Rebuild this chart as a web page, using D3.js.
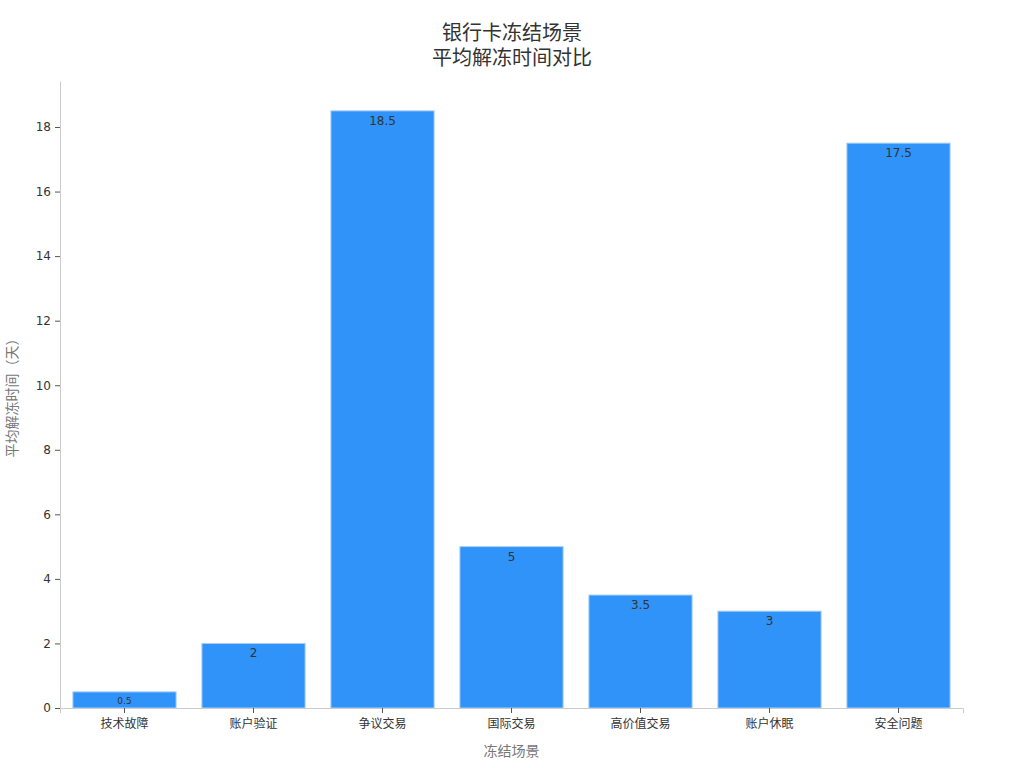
<!DOCTYPE html>
<html>
<head>
<meta charset="utf-8">
<script src="https://cdn.jsdelivr.net/npm/d3@7"></script>
<style>
  body { margin: 0; background: #fff; }
  text { font-family: "DejaVu Sans", "Noto Sans CJK SC", sans-serif; }
</style>
</head>
<body>
<div id="chart"></div>
<script>
const categories = ['技术故障', '账户验证', '争议交易', '国际交易', '高价值交易', '账户休眠', '安全问题'];
const values = [0.5, 2, 18.5, 5, 3.5, 3, 17.5];
const yTicks = [0, 2, 4, 6, 8, 10, 12, 14, 16, 18];
const titleLines = ['银行卡冻结场景', '平均解冻时间对比'];

const dimensions = {
  width: 1024,
  height: 768,
  margin: { top: 81, bottom: 60, left: 60, right: 61 }
};
dimensions.containerWidth = dimensions.width - dimensions.margin.left - dimensions.margin.right;
dimensions.containerHeight = dimensions.height - dimensions.margin.top - dimensions.margin.bottom;

const svg = d3.select('#chart')
  .append('svg')
  .attr('width', dimensions.width)
  .attr('height', dimensions.height);

svg.selectAll('.title')
  .data(titleLines)
  .join('text')
  .classed('title', true)
  .attr('x', dimensions.width / 2)
  .attr('y', (d, i) => 40 + i * 25)
  .attr('text-anchor', 'middle')
  .attr('fill', '#333')
  .style('font-size', '20px')
  .text(d => d);

const container = svg.append('g')
  .attr('transform', `translate(${dimensions.margin.left}, ${dimensions.margin.top})`);

const xScale = d3.scaleBand()
  .domain(categories)
  .range([0, dimensions.containerWidth])
  .paddingInner(0.2)
  .paddingOuter(0.1);

const yScale = d3.scaleLinear()
  .domain([0, d3.max(values) * 1.05])
  .range([dimensions.containerHeight, 0]);

// bars
container.selectAll('rect')
  .data(values)
  .join('rect')
  .attr('x', (d, i) => xScale(categories[i]))
  .attr('y', d => yScale(d))
  .attr('width', xScale.bandwidth())
  .attr('height', d => yScale(0) - yScale(d))
  .attr('fill', '#2f93f9')
  .attr('stroke', '#a9cff3')
  .attr('stroke-width', 1);

// value labels
container.selectAll('.value-label')
  .data(values)
  .join('text')
  .classed('value-label', true)
  .attr('x', (d, i) => xScale(categories[i]) + xScale.bandwidth() / 2)
  .attr('y', d => {
    const h = yScale(0) - yScale(d);
    return h < 20 ? yScale(d) + h / 2 + 4 : yScale(d) + 14;
  })
  .attr('text-anchor', 'middle')
  .attr('fill', '#333')
  .style('font-size', d => (yScale(0) - yScale(d) < 20 ? '9px' : '12px'))
  .text(d => d);

// x axis
const xAxisGroup = container.append('g')
  .attr('transform', `translate(0, ${dimensions.containerHeight})`)
  .call(d3.axisBottom(xScale).tickSize(5).tickPadding(6));
xAxisGroup.select('.domain').attr('stroke', '#ccc');
xAxisGroup.selectAll('.tick line').attr('stroke', '#555');
xAxisGroup.selectAll('.tick text').attr('fill', '#333').style('font-size', '12px');

xAxisGroup.append('text')
  .attr('x', dimensions.containerWidth / 2)
  .attr('y', 48)
  .attr('fill', '#777')
  .attr('text-anchor', 'middle')
  .style('font-size', '14px')
  .text('冻结场景');

// y axis
const yAxisGroup = container.append('g')
  .call(d3.axisLeft(yScale).tickValues(yTicks).tickSize(5).tickPadding(4).tickSizeOuter(0));
yAxisGroup.select('.domain').attr('stroke', '#ccc');
yAxisGroup.selectAll('.tick line').attr('stroke', '#555');
yAxisGroup.selectAll('.tick text').attr('fill', '#333').style('font-size', '12px');

yAxisGroup.append('text')
  .attr('transform', 'rotate(-90)')
  .attr('x', -dimensions.containerHeight / 2)
  .attr('y', -43)
  .attr('fill', '#777')
  .attr('text-anchor', 'middle')
  .style('font-size', '14px')
  .text('平均解冻时间（天）');
</script>
</body>
</html>
